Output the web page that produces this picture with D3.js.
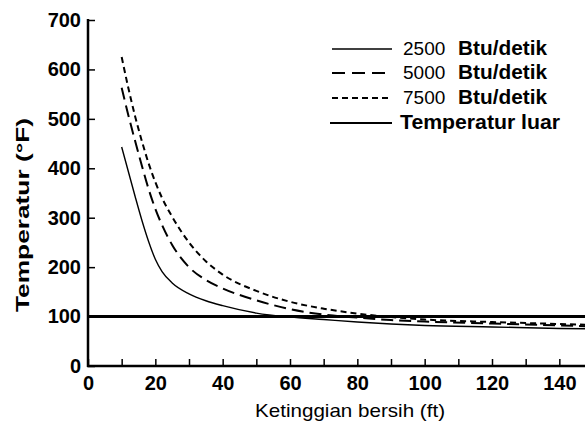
<!DOCTYPE html>
<html lang="id">
	<head>
		<meta charset="utf-8">
		<title>Temperatur vs ketinggian bersih</title>
		<script type="text/javascript" src="https://cdn.jsdelivr.net/npm/d3@7"></script>
		<style type="text/css">
			body {
				margin: 0;
				background: #fff;
			}
			svg text {
				font-family: "Liberation Sans", Arial, Helvetica, sans-serif;
				fill: #000;
			}
			.tick text {
				font-size: 20px;
				font-weight: bold;
			}
			.tick line {
				stroke: #000;
				stroke-width: 1.5;
			}
		</style>
	</head>
	<body>
		<script type="text/javascript">

			var w = 585;
			var h = 423;

			// ketinggian bersih (ft)
			var heights = [10, 12, 14, 16, 18, 20, 22, 25, 30, 35, 40, 50, 60, 70, 80, 90, 100, 120, 140, 150];
			// temperatur (°F) untuk tiap laju panas
			var temp2500 = [443, 393, 343, 295, 252, 216, 191, 168, 146, 132, 122, 107, 99, 94, 89, 85, 82, 79, 76, 75];
			var temp5000 = [563, 507, 455, 405, 358, 318, 285, 245, 200, 174, 157, 133, 115, 104, 98, 93, 90, 86, 82, 80];
			var temp7500 = [625, 562, 505, 455, 410, 372, 340, 302, 250, 212, 185, 152, 130, 116, 106, 99, 94, 89, 85, 83];
			// temperatur luar
			var ambientX = [0, 150];
			var ambientY = [100, 100];

			var rateLabels = ["2500", "5000", "7500"];
			var unitLabel = "Btu/detik";
			var ambientLabel = "Temperatur luar";
			var xTicks = [0, 10, 20, 30, 40, 50, 60, 70, 80, 90, 100, 110, 120, 130, 140, 150];
			var yTicks = [0, 100, 200, 300, 400, 500, 600, 700];

			var dashes = ["none", "12,6", "6,4"];
			var widths = [1.4, 2, 2];

			var svg = d3.select("body")
				.append("svg")
				.attr("width", w)
				.attr("height", h);

			var x = d3.scaleLinear().domain([0, 150]).range([88, 593]);
			var y = d3.scaleLinear().domain([0, 700]).range([366, 20]);

			// curves
			var line = d3.line()
				.x(function (d) { return x(d[0]); })
				.y(function (d) { return y(d[1]); })
				.curve(d3.curveMonotoneX);

			var series = [temp2500, temp5000, temp7500].map(function (vals) {
				return heights.map(function (hh, i) { return [hh, vals[i]]; });
			});

			svg.selectAll("path.curve")
				.data(series)
				.enter()
				.append("path")
				.attr("class", "curve")
				.attr("d", line)
				.attr("fill", "none")
				.attr("stroke", "#000")
				.attr("stroke-width", function (d, i) { return widths[i]; })
				.attr("stroke-dasharray", function (d, i) { return dashes[i]; });

			// ambient line
			svg.append("path")
				.attr("d", line(ambientX.map(function (v, i) { return [v, ambientY[i]]; })))
				.attr("fill", "none")
				.attr("stroke", "#000")
				.attr("stroke-width", 3);

			// axes
			var yAxis = d3.axisLeft(y)
				.tickValues(yTicks)
				.tickSizeInner(-7)
				.tickSizeOuter(0)
				.tickPadding(7);

			var gy = svg.append("g")
				.attr("transform", "translate(88,0)")
				.call(yAxis);
			gy.select(".domain").remove();

			var xAxis = d3.axisBottom(x)
				.tickValues(xTicks)
				.tickSizeInner(-7)
				.tickSizeOuter(0)
				.tickPadding(10)
				.tickFormat(function (d) { return d % 20 === 0 ? d : ""; });

			var gx = svg.append("g")
				.attr("transform", "translate(0,366)")
				.call(xAxis);
			gx.select(".domain").remove();

			svg.append("line")
				.attr("x1", 88).attr("x2", 88)
				.attr("y1", y(700) - 1).attr("y2", 367)
				.attr("stroke", "#000")
				.attr("stroke-width", 2.5);

			svg.append("line")
				.attr("x1", 87).attr("x2", w)
				.attr("y1", 366).attr("y2", 366)
				.attr("stroke", "#000")
				.attr("stroke-width", 2.5);

			// axis titles
			svg.append("text")
				.attr("transform", "translate(29,312) rotate(-90)")
				.attr("textLength", 194)
				.attr("lengthAdjust", "spacingAndGlyphs")
				.style("font-size", "19px")
				.style("font-weight", "bold")
				.text("Temperatur (°F)");

			svg.append("text")
				.attr("x", 255)
				.attr("y", 417)
				.attr("textLength", 190)
				.attr("lengthAdjust", "spacingAndGlyphs")
				.style("font-size", "19px")
				.text("Ketinggian bersih (ft)");

			// legend
			var legendY = [49, 73, 98, 123];

			var legend = svg.selectAll("g.legend")
				.data(rateLabels)
				.enter()
				.append("g")
				.attr("class", "legend")
				.attr("transform", function (d, i) { return "translate(0," + legendY[i] + ")"; });

			legend.append("line")
				.attr("x1", 332).attr("x2", 392)
				.attr("stroke", "#000")
				.attr("stroke-width", function (d, i) { return widths[i]; })
				.attr("stroke-dasharray", function (d, i) { return i === 1 ? "13,7" : dashes[i]; });

			legend.append("text")
				.attr("x", 403)
				.attr("y", 6)
				.style("font-size", "19px")
				.text(function (d) { return d; });

			legend.append("text")
				.attr("x", 458)
				.attr("y", 6)
				.attr("textLength", 89)
				.attr("lengthAdjust", "spacingAndGlyphs")
				.style("font-size", "20px")
				.style("font-weight", "bold")
				.text(unitLabel);

			svg.append("line")
				.attr("x1", 330).attr("x2", 392)
				.attr("y1", legendY[3]).attr("y2", legendY[3])
				.attr("stroke", "#000")
				.attr("stroke-width", 2.2);

			svg.append("text")
				.attr("x", 400)
				.attr("y", legendY[3] + 6)
				.attr("textLength", 160)
				.attr("lengthAdjust", "spacingAndGlyphs")
				.style("font-size", "20px")
				.style("font-weight", "bold")
				.text(ambientLabel);

		</script>
	</body>
</html>
